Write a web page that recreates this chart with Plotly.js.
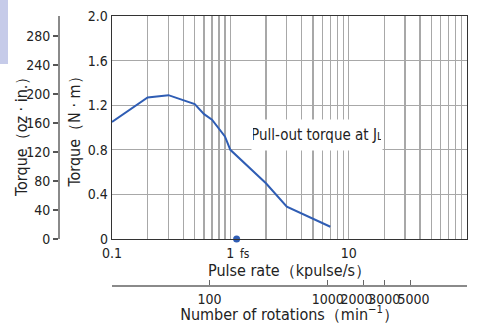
<!DOCTYPE html>
<html><head><meta charset="utf-8">
<script src="https://cdn.plot.ly/plotly-3.0.1.min.js"></script>
<style>html,body{margin:0;padding:0;background:#fff}#c{width:478px;height:324px}</style>
</head><body><div id="c"></div>
<script>
// Data
const pulseRate = [0.1, 0.2, 0.3, 0.5, 0.6, 0.7, 0.9, 1.0, 2, 3, 7];          // kpulse/s
const torqueNm  = [1.05, 1.27, 1.29, 1.21, 1.12, 1.07, 0.92, 0.80, 0.50, 0.29, 0.11]; // N·m
const fsPoint = [1.13];
const fsTorque = [0];

const pulseGridVals = [0.1,0.2,0.3,0.4,0.5,0.6,0.7,0.8,0.9,1,2,3,4,5,6,7,8,9,10,20,30,40,50,60,70,80,90,100];
const pulseLabelVals = [0.1, 1, 10, 100];
const pulseLabels = ['0.1', '1', '10', '100'];
const nmTicks = [0, 0.4, 0.8, 1.2, 1.6, 2.0];
const nmLabels = ['0', '0.4', '0.8', '1.2', '1.6', '2.0'];
const ozTicks = [0, 40, 80, 120, 160, 200, 240, 280];
const rpmTicksA = [100, 1000, 3000];
const rpmLabelsA = ['100', '1000', '3000'];
const rpmTicksB = [2000];
const rpmLabelsB = ['2000'];
const rpmTicksC = [5000];
const rpmLabelsC = ['5000'];

const FONT = '"Liberation Sans Narrow", "DejaVu Sans Condensed", Arial, sans-serif';
const gridTickText = pulseGridVals.map(v => pulseLabelVals.includes(v) ? pulseLabels[pulseLabelVals.indexOf(v)] : '');

const traces = [
  {x: pulseRate, y: torqueNm, type: 'scatter', mode: 'lines', xaxis: 'x', yaxis: 'y',
   line: {color: '#2f5db4', width: 2}, hoverinfo: 'skip', showlegend: false},
  {x: fsPoint, y: fsTorque, type: 'scatter', mode: 'markers', xaxis: 'x', yaxis: 'y',
   marker: {color: '#2f5db4', size: 7}, cliponaxis: false, showlegend: false},
  {x: [], y: [], type: 'scatter', xaxis: 'x', yaxis: 'y2', showlegend: false},
  {x: [], y: [], type: 'scatter', xaxis: 'x2', yaxis: 'y', showlegend: false},
  {x: [], y: [], type: 'scatter', xaxis: 'x3', yaxis: 'y', showlegend: false},
  {x: [], y: [], type: 'scatter', xaxis: 'x4', yaxis: 'y', showlegend: false}
];

const W = 467, H = 304; // plot area after margins
const rpmPos = (320 - 286) / H;
const rpmRange = [Math.log10(15), Math.log10(15000)];
function rpmAxis(vals, labels, shift, extra) {
  return Object.assign({
    type: 'log', overlaying: 'x', anchor: 'free', position: rpmPos, side: 'bottom',
    range: rpmRange, tickvals: vals, ticktext: labels, tickangle: 0,
    ticks: 'inside', ticklen: 5, tickwidth: 1.3, tickcolor: '#666',
    showgrid: false, showline: true, linecolor: '#8a8a8a', linewidth: 2,
    tickfont: {size: 14}, ticklabelshift: shift,
    zeroline: false, fixedrange: true
  }, extra || {});
}

const layout = {
  width: 478, height: 324,
  margin: {l: 0, r: 11, t: 16, b: 4},
  paper_bgcolor: '#fff', plot_bgcolor: '#fff',
  font: {family: FONT, size: 14, color: '#222'},
  showlegend: false,
  xaxis: {
    type: 'log', range: [-1, 2], domain: [112 / W, 1],
    tickvals: pulseGridVals, ticktext: gridTickText, tickangle: 0,
    showgrid: true, gridcolor: '#a8a8a8', gridwidth: 1.3,
    showline: true, mirror: true, linecolor: '#333', linewidth: 1.3,
    ticks: '', ticklabelstandoff: 1,
    title: {text: 'Pulse rate（kpulse/s）', font: {size: 16}, standoff: 3},
    zeroline: false, fixedrange: true
  },
  xaxis2: rpmAxis(rpmTicksA, rpmLabelsA, 0, {
    title: {text: 'Number of rotations（min<sup>−1</sup>）', font: {size: 16}, standoff: 5}
  }),
  xaxis3: rpmAxis(rpmTicksB, rpmLabelsB, -7),
  xaxis4: rpmAxis(rpmTicksC, rpmLabelsC, 3),
  yaxis: {
    range: [0, 2.0], domain: [(320 - 239) / H, 1],
    tickvals: nmTicks, ticktext: nmLabels,
    showgrid: true, gridcolor: '#a8a8a8', gridwidth: 1.3,
    showline: true, mirror: true, linecolor: '#333', linewidth: 1.3,
    ticks: '', ticklabelstandoff: 0,
    title: {text: 'Torque（N · m）', font: {size: 16}, standoff: 3},
    zeroline: false, fixedrange: true
  },
  yaxis2: {
    overlaying: 'y', anchor: 'free', position: 58 / W, side: 'left',
    range: [0, 307.6],
    tickvals: ozTicks, ticks: 'outside', ticklen: 5, tickwidth: 1.2, tickcolor: '#555',
    showgrid: false, showline: true, linecolor: '#8a8a8a', linewidth: 1.5,
    zeroline: false, fixedrange: true
  },
  shapes: [
    {type: 'rect', xref: 'paper', yref: 'paper', x0: 0, x1: 8 / W, y0: (320 - 64) / H, y1: 320 / H,
     fillcolor: '#c6cbe9', line: {width: 0}, layer: 'below'}
  ],
  annotations: [
    {xref: 'paper', yref: 'paper', x: 21 / W, y: (320 - 133) / H, textangle: -90,
     text: 'Torque（oz · in.）', showarrow: false, font: {size: 16}, xanchor: 'center', yanchor: 'middle'},
    {xref: 'x', yref: 'y', x: Math.log10(5.4), y: 0.93,
     text: 'Pull-out torque at J<span style="font-size:11px">L</span>',
     showarrow: false, bgcolor: '#fff', width: 128, height: 28, font: {size: 15}},
    {xref: 'x', yref: 'y', x: Math.log10(1.15), y: 0, xanchor: 'left', yanchor: 'top', yshift: -6,
     text: 'fs', showarrow: false, font: {size: 12}}
  ]
};

Plotly.newPlot('c', traces, layout, {staticPlot: true, displayModeBar: false});
</script></body></html>
